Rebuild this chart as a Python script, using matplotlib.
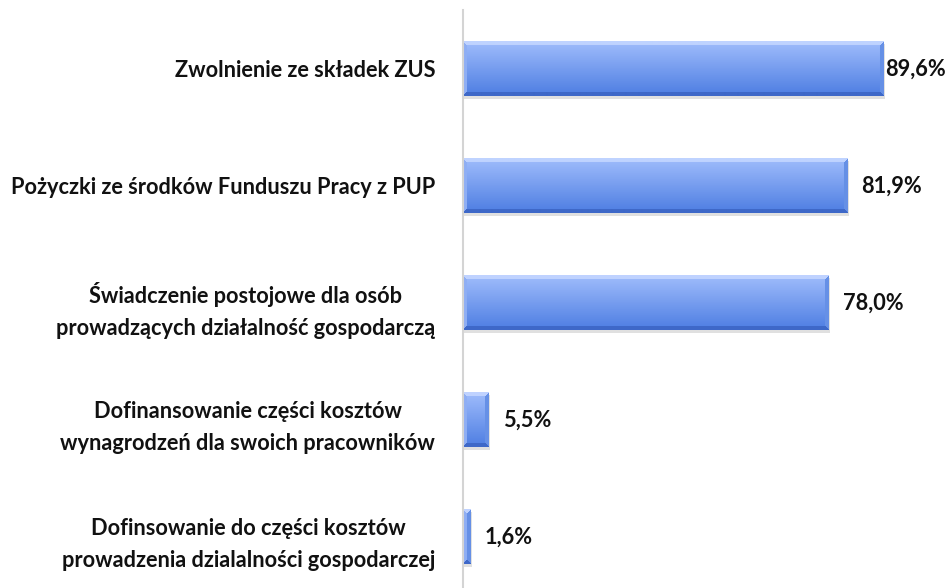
import matplotlib.pyplot as plt
import numpy as np
from matplotlib.colors import to_rgb

plt.rcParams["font.family"] = ["Lato", "DejaVu Sans"]

categories = [
    "Zwolnienie ze składek ZUS",
    "Pożyczki ze środków Funduszu Pracy z PUP",
    "Świadczenie postojowe dla osób\nprowadzących działalność gospodarczą",
    "Dofinansowanie części kosztów\nwynagrodzeń dla swoich pracowników",
    "Dofinsowanie do części kosztów\nprowadzenia dzialalności gospodarczej",
]
values = [89.6, 81.9, 78.0, 5.5, 1.6]
value_labels = ["89,6%", "81,9%", "78,0%", "5,5%", "1,6%"]

W, H, DPI = 949, 588, 100
BAR_H = 0.47
X_MAX = 100.0
FS = 15.7

fig = plt.figure(figsize=(W / DPI, H / DPI), dpi=DPI)
ax_left, ax_right, ax_top = 463, 932, 10
ax = fig.add_axes([ax_left / W, 0, (ax_right - ax_left) / W, 1 - ax_top / H])
ax.set_xlim(0, X_MAX)
ax.set_ylim(4.436, -0.504)

px_x = X_MAX / (ax_right - ax_left)   # data units per pixel, x
px_y = 117.0                           # pixels per category step

face_top = np.array(to_rgb("#a0bdfc"))
face_bot = np.array(to_rgb("#4d7de2"))
bev_top = np.array(to_rgb("#bfd3ff"))
bev_bot = np.array(to_rgb("#3e68c8"))
bev_right = np.array(to_rgb("#6690e6"))
bev_left = np.array(to_rgb("#8eaef4"))


def bar_image(w_px, h_px, b=4):
    w_px = max(int(round(w_px)), 2)
    h_px = max(int(round(h_px)), 2)
    yy, xx = np.mgrid[0:h_px, 0:w_px] + 0.5
    t = yy / h_px
    img = face_top[None, None, :] * (1 - t[..., None]) + face_bot[None, None, :] * t[..., None]
    d = np.stack([yy, h_px - yy, xx, w_px - xx])  # top, bottom, left, right
    near = d.argmin(axis=0)
    inside = d.min(axis=0) < b
    for k, col in enumerate([bev_top, bev_bot, bev_left, bev_right]):
        m = inside & (near == k)
        img[m] = col
    return img


for i, v in enumerate(values):
    # soft shadow
    ax.barh(i + 3 / px_y, v + 1.5 * px_x, height=BAR_H, left=0, color="#000000",
            alpha=0.12, linewidth=0, zorder=1)
    img = bar_image(v / px_x, BAR_H * px_y)
    ax.imshow(img, extent=(0, v, i + BAR_H / 2, i - BAR_H / 2), aspect="auto",
              interpolation="bilinear", zorder=2)

for i, (v, lab) in enumerate(zip(values, value_labels)):
    gap = 2 if v > 85 else 14
    ax.text(v + gap * px_x, i, lab, va="center", ha="left", fontsize=FS,
            fontweight="bold", color="#111111", zorder=3, clip_on=False)

ax.set_yticks(range(len(categories)))
ax.set_yticklabels(categories, fontsize=FS, fontweight="bold", color="#111111",
                   multialignment="center", linespacing=1.62)
ax.tick_params(axis="y", length=0, pad=20)
ax.set_xticks([])
for s in ["top", "right", "bottom"]:
    ax.spines[s].set_visible(False)
ax.spines["left"].set_color("#d4d4d4")
ax.spines["left"].set_linewidth(1.5)

fig.savefig("out.png", dpi=DPI)
